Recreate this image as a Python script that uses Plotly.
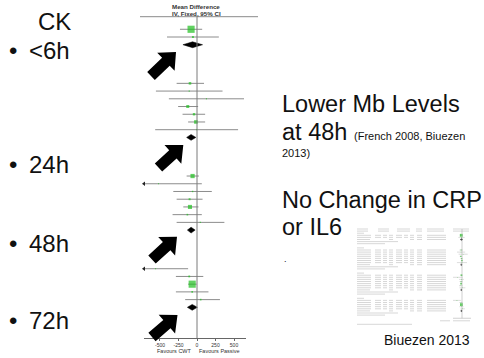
import math
import plotly.graph_objects as go

W, H = 484, 358

# ---------------- data: creatine kinase, CWT vs passive recovery ----------------
subgroups = ["<6h", "24h", "48h", "72h"]
group_sizes = [2, 7, 7, 5]

study_md = [-80, -55,
            -95, -105, 128, -125, -40, -15, -5,
            -60, -520, -60, -100, -95, -130, 45,
            -560, -105, -65, -65, 50]
study_lo = [-230, -405,
            -275, -555, -380, -255, -195, -120, -565,
            -140, -1100, -320, -275, -185, -330, -275,
            -1000, -285, -120, -285, -160]
study_hi = [70, 295,
            95, 345, 635, 15, 110, 110, 555,
            25, 65, 200, 75, 20, 65, 370,
            -120, 85, -5, 155, 310]
study_weight = [80, 6,
                10, 2, 2, 14, 9, 20, 2,
                28, 1, 3, 6, 26, 4, 2,
                1, 5, 80, 4, 4]

pooled_md = [-60, -80, -80, -65]
pooled_lo = [-190, -140, -130, -130]
pooled_hi = [75, -15, -25, 5]

tick_vals = [-500, -250, 0, 250, 500]
tick_text = ["-500", "-250", "0", "250", "500"]

# ---------------- styling ----------------
FONT = "Liberation Sans"
INK = "#111111"
GREEN = "#1fbf1f"
CI_GREY = "#8c8c8c"
AXIS_GREY = "#666666"
X_MIN, X_MAX = -716, 662

# row layout: studies, pooled diamond, then four rows of subgroup footer/heading
study_rows, pooled_rows = [], []
start = 0
for n in group_sizes:
    study_rows += list(range(start, start + n))
    pooled_rows.append(start + n)
    start += n + 5

fig = go.Figure()

# confidence intervals
ci_x, ci_y = [], []
for lo, hi, r in zip(study_lo, study_hi, study_rows):
    ci_x += [lo, hi, None]
    ci_y += [r, r, None]
fig.add_trace(go.Scatter(x=ci_x, y=ci_y, mode="lines",
                         line=dict(color=CI_GREY, width=1), hoverinfo="skip"))

# intervals running off the left of the scale
off_rows = [r for lo, r in zip(study_lo, study_rows) if lo < X_MIN]
fig.add_trace(go.Scatter(x=[X_MIN] * len(off_rows), y=off_rows, mode="markers",
                         marker=dict(symbol="triangle-left", size=4, color="#222222"),
                         cliponaxis=False, hoverinfo="skip"))

# point estimates, square area proportional to weight
fig.add_trace(go.Scatter(
    x=study_md, y=study_rows, mode="markers",
    marker=dict(symbol="square", color=GREEN, line=dict(width=0),
                size=[max(1.0, 0.8 * math.sqrt(w)) for w in study_weight]),
    hoverinfo="skip"))

# pooled diamonds
for md, lo, hi, r in zip(pooled_md, pooled_lo, pooled_hi, pooled_rows):
    fig.add_trace(go.Scatter(x=[lo, md, hi, md, lo], y=[r, r - 0.38, r, r + 0.38, r],
                             mode="lines", fill="toself", fillcolor="black",
                             line=dict(color="black", width=0.5), hoverinfo="skip"))

# ---------------- small table thumbnail (Biuezen 2013) ----------------
T_Y0, T_DY = 229.0, 2.1
thumb_rows = [(0, "head"), (1, "head")]
t = 2
thumb_study_t, thumb_pooled_t = [], []
for n in group_sizes:
    thumb_rows.append((t, "group")); t += 1
    for _ in range(n):
        thumb_rows.append((t, "study")); thumb_study_t.append(t); t += 1
    thumb_rows.append((t, "total")); thumb_pooled_t.append(t); t += 1
    thumb_rows.append((t, "het")); t += 1
    thumb_rows.append((t, "test")); t += 1
    t += 1
thumb_last = t

columns = {
    "head": [(357, 368), (378, 389), (397, 410), (416, 422), (427, 444), (453, 469)],
    "group": [(357, 364)],
    "study": [(357, 371), (375, 381), (383, 387), (389, 393), (396, 402),
              (404, 408), (410, 414), (417, 422), (427, 446)],
    "total": [(357, 370), (389, 393), (410, 414), (417, 422), (427, 446)],
    "het": [(357, 398)],
    "test": [(357, 385)],
}
tx, ty = [], []
for tr, kind in thumb_rows:
    yy = T_Y0 + T_DY * tr
    for a, b in columns[kind]:
        tx += [a, b, None]
        ty += [yy, yy, None]
foot_y = T_Y0 + T_DY * thumb_last
for a, b, yy in [(440, 450, foot_y + 1.5), (453, 470, foot_y + 1.5), (357, 412, foot_y + 5)]:
    tx += [a, b, None]
    ty += [yy, yy, None]
fig.add_trace(go.Scatter(x=tx, y=ty, mode="lines", xaxis="x2", yaxis="y2",
                         line=dict(color="#d2d2d2", width=0.9), hoverinfo="skip"))

# thumbnail forest column drawn from the same estimates
th_ci_x, th_ci_y = [], []
for lo, hi, r in zip(study_lo, study_hi, thumb_study_t):
    th_ci_x += [max(lo, -1000), min(hi, 1000), None]
    th_ci_y += [r, r, None]
fig.add_trace(go.Scatter(x=th_ci_x, y=th_ci_y, mode="lines", xaxis="x3", yaxis="y3",
                         line=dict(color="#c4c4c4", width=0.6), hoverinfo="skip"))
fig.add_trace(go.Scatter(
    x=study_md, y=thumb_study_t, mode="markers", xaxis="x3", yaxis="y3",
    marker=dict(symbol="square", color=GREEN, line=dict(width=0),
                size=[max(0.6, 0.32 * math.sqrt(w)) for w in study_weight]),
    hoverinfo="skip"))
for md, lo, hi, r in zip(pooled_md, pooled_lo, pooled_hi, thumb_pooled_t):
    fig.add_trace(go.Scatter(x=[lo, md, hi, md, lo], y=[r, r - 0.5, r, r + 0.5, r],
                             mode="lines", fill="toself", fillcolor="#222222",
                             xaxis="x3", yaxis="y3",
                             line=dict(color="#222222", width=0.4), hoverinfo="skip"))

# ---------------- shapes ----------------
shapes = [
    # zero line of the forest plot
    dict(type="line", xref="x", yref="y", x0=0, x1=0, y0=-1.72, y1=39.97,
         line=dict(color="#7a7a7a", width=1)),
    # header rule
    dict(type="line", xref="x2", yref="y2", x0=140, x1=258, y0=16.7, y1=16.7,
         line=dict(color="#8a8a8a", width=1)),
    # thumbnail zero line and axis
    dict(type="line", xref="x3", yref="y3", x0=0, x1=0, y0=0, y1=thumb_last - 0.5,
         line=dict(color="#b0b0b0", width=0.6)),
    dict(type="line", xref="x3", yref="y3", x0=-1000, x1=1000,
         y0=thumb_last - 0.5, y1=thumb_last - 0.5,
         line=dict(color="#b0b0b0", width=0.6)),
]


def block_arrow(tail, tip, shaft=11, head_w=25, head_len=14):
    tx0, ty0 = tail
    px, py = tip
    dx, dy = px - tx0, py - ty0
    length = math.hypot(dx, dy)
    ux, uy = dx / length, dy / length
    nx, ny = -uy, ux
    bx, by = px - ux * head_len, py - uy * head_len
    pts = [(tx0 + nx * shaft / 2, ty0 + ny * shaft / 2),
           (bx + nx * shaft / 2, by + ny * shaft / 2),
           (bx + nx * head_w / 2, by + ny * head_w / 2),
           (px, py),
           (bx - nx * head_w / 2, by - ny * head_w / 2),
           (bx - nx * shaft / 2, by - ny * shaft / 2),
           (tx0 - nx * shaft / 2, ty0 - ny * shaft / 2)]
    return "M " + " L ".join(f"{x:.1f},{y:.1f}" for x, y in pts) + " Z"


for tail, tip in [((151, 76), (176, 52)), ((158.5, 167.5), (183.3, 145)),
                  ((152, 259.5), (177, 236.7)), ((152, 337), (177.5, 315))]:
    shapes.append(dict(type="path", xref="x2", yref="y2", path=block_arrow(tail, tip),
                       fillcolor="black", line=dict(width=0), layer="above"))

# ---------------- text ----------------
annotations = []


def txt(x, y, s, size, xanchor="left", bold=False, color=INK):
    annotations.append(dict(
        x=x, y=y, xref="x2", yref="y2", text=f"<b>{s}</b>" if bold else s,
        showarrow=False, xanchor=xanchor, yanchor="middle", borderpad=0,
        font=dict(family=FONT, size=size, color=color)))


txt(37, 21, "CK", 24)
for label, yy in zip(subgroups, [50, 164, 243, 320]):
    txt(12.5, yy, "•", 24, xanchor="center")
    txt(28, yy, label, 24)

txt(196, 6, "Mean Difference", 6.2, xanchor="center", bold=True, color="#333333")
txt(196, 13.3, "IV, Fixed, 95% CI", 6.2, xanchor="center", bold=True, color="#333333")
txt(174, 350.5, "Favours CWT", 5.5, xanchor="center", color="#333333")
txt(219, 350.5, "Favours Passive", 5.5, xanchor="center", color="#333333")

txt(281, 103.5, "Lower Mb Levels", 23.5)
txt(281, 131.5, "at 48h", 23.5)
txt(353, 136, "(French 2008, Biuezen", 11)
txt(281, 152.8, "2013)", 11)
txt(281, 200, "No Change in CRP", 23.5)
txt(281, 227, "or IL6", 23.5)
txt(283, 259, ".", 9)
txt(427, 340, "Biuezen 2013", 14, xanchor="center")

# ---------------- layout ----------------
fig.update_layout(
    width=W, height=H, margin=dict(l=0, r=0, t=0, b=0),
    paper_bgcolor="white", plot_bgcolor="rgba(0,0,0,0)", showlegend=False,
    xaxis=dict(domain=[144 / W, 246 / W], range=[X_MIN, X_MAX], showgrid=False,
               zeroline=False, showline=True, linecolor=AXIS_GREY, linewidth=1,
               ticks="outside", ticklen=1.5, tickcolor=AXIS_GREY, tickwidth=1,
               tickvals=tick_vals, ticktext=tick_text,
               tickfont=dict(family=FONT, size=5, color="#333333"), fixedrange=True),
    yaxis=dict(domain=[20 / H, 342 / H], range=[39.97, -1.72], visible=False,
               fixedrange=True),
    xaxis2=dict(domain=[0, 1], range=[0, W], visible=False, anchor="y2", fixedrange=True),
    yaxis2=dict(domain=[0, 1], range=[H, 0], visible=False, anchor="x2", fixedrange=True),
    xaxis3=dict(domain=[0, 1], range=[-462 / 0.009, (W - 462) / 0.009], visible=False,
                anchor="y3", fixedrange=True),
    yaxis3=dict(domain=[0, 1], range=[(H - T_Y0) / T_DY, -T_Y0 / T_DY], visible=False,
                anchor="x3", fixedrange=True),
    shapes=shapes, annotations=annotations,
)

fig.write_html("out.html")
